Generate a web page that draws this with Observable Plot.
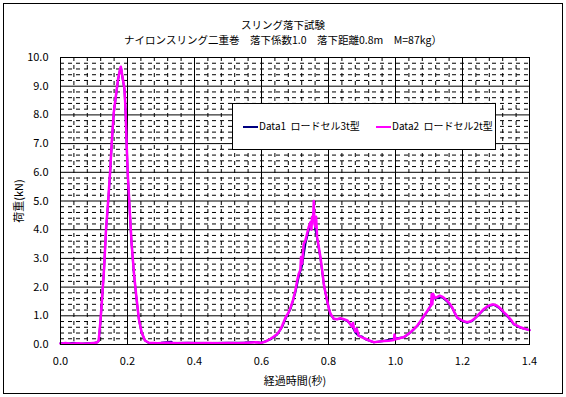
<!DOCTYPE html>
<html>
<head>
<meta charset="utf-8">
<script src="https://cdn.jsdelivr.net/npm/d3@7"></script>
<script src="https://cdn.jsdelivr.net/npm/@observablehq/plot@0.6"></script>
<style>
  body { margin: 0; background: white; }
  #wrap { position: relative; width: 566px; height: 397px; background: white; font-family: "Noto Sans CJK JP", sans-serif; color: black; }
  #wrap svg { position: absolute; left: 0; top: 0; }
  .ov { position: absolute; pointer-events: none; }
  .title { left: 0; width: 566px; text-align: center; font-size: 10.5px; line-height: 14px; white-space: nowrap; }
  #border { left: 3px; top: 3px; width: 560px; height: 391px; border: 1px solid black; box-sizing: border-box; }
  #legend { left: 232px; top: 103px; width: 264px; height: 47px; border: 1px solid black; box-sizing: border-box; background: white; font-size: 10px; }
  .sw { position: absolute; top: 22px; width: 15px; height: 0; border-top: 2px solid; }
  .lt { position: absolute; top: 15px; white-space: nowrap; line-height: 14px; }
</style>
</head>
<body>
<div id="wrap">
  <div class="ov" id="border"></div>
  <div class="ov title" id="t1" style="top:18px">スリング落下試験</div>
  <div class="ov title" id="t2" style="top:33px">ナイロンスリング二重巻　落下係数1.0　落下距離0.8m　M=87kg）</div>
  <div class="ov" id="legend">
    <div class="sw" style="left:10px;border-color:#000080"></div>
    <div class="lt" style="left:26px">Data1&nbsp;&nbsp;ロードセル3t型</div>
    <div class="sw" style="left:143px;border-color:#ff00ff"></div>
    <div class="lt" style="left:159px">Data2&nbsp;&nbsp;ロードセル2t型</div>
  </div>
</div>
<script>
// Data1 : load cell 3t (navy)
const time1 = [0,0.02,0.04,0.06,0.08,0.1,0.11,0.114,0.119,0.124,0.13,0.136,0.142,0.148,0.153,0.159,0.166,0.172,0.178,0.181,0.186,0.191,0.194,0.198,0.201,0.206,0.212,0.219,0.226,0.234,0.242,0.252,0.264,0.3,0.33,0.335,0.38,0.45,0.5,0.55,0.58,0.6,0.627,0.647,0.662,0.672,0.687,0.701,0.711,0.721,0.731,0.741,0.746,0.756,0.761,0.766,0.776,0.786,0.796,0.806,0.816,0.836,0.856,0.87,0.88,0.89,0.9,0.91,0.935,0.965,0.995,1.025,1.045,1.065,1.085,1.102,1.112,1.124,1.139,1.154,1.169,1.184,1.199,1.214,1.229,1.244,1.264,1.279,1.294,1.309,1.323,1.338,1.353,1.373,1.4];
const load1 = [0.05,0.03,0.06,0.03,0.04,0.05,0.08,0.12,0.75,1.55,2.6,4.0,4.92,5.95,7.0,8.05,8.7,9.22,9.58,9.62,9.22,8.88,8.18,6.8,5.86,4.8,3.52,2.5,1.68,0.87,0.42,0.14,0.05,0.06,0.1,0.05,0.06,0.05,0.06,0.07,0.09,0.06,0.18,0.35,0.62,0.9,1.25,1.8,2.35,2.75,3.5,4.0,4.1,4.6,4.0,3.7,3.0,2.1,1.5,1.05,0.88,0.9,0.82,0.65,0.42,0.3,0.28,0.18,0.08,0.12,0.2,0.25,0.42,0.64,0.98,1.28,1.6,1.62,1.65,1.5,1.28,0.93,0.82,0.76,0.82,0.98,1.22,1.34,1.38,1.28,1.1,0.93,0.7,0.58,0.5];

// Data2 : load cell 2t (magenta)
const time2 = [0,0.015,0.03,0.05,0.07,0.09,0.105,0.11,0.114,0.119,0.124,0.13,0.136,0.142,0.148,0.153,0.159,0.166,0.172,0.178,0.18,0.182,0.186,0.191,0.194,0.198,0.201,0.206,0.212,0.219,0.226,0.234,0.242,0.252,0.264,0.29,0.32,0.35,0.38,0.41,0.44,0.47,0.5,0.53,0.56,0.585,0.597,0.612,0.627,0.637,0.647,0.655,0.662,0.672,0.68,0.687,0.694,0.701,0.706,0.711,0.716,0.718,0.721,0.724,0.726,0.731,0.736,0.741,0.746,0.749,0.751,0.754,0.756,0.758,0.761,0.763,0.766,0.771,0.776,0.781,0.786,0.791,0.796,0.801,0.806,0.816,0.826,0.836,0.846,0.856,0.864,0.87,0.873,0.876,0.88,0.884,0.89,0.9,0.91,0.922,0.935,0.95,0.965,0.98,0.995,0.997,1.0,1.012,1.025,1.035,1.045,1.055,1.065,1.075,1.085,1.094,1.102,1.106,1.108,1.11,1.112,1.118,1.124,1.132,1.139,1.147,1.154,1.162,1.169,1.176,1.184,1.192,1.199,1.207,1.214,1.222,1.229,1.237,1.244,1.254,1.264,1.272,1.279,1.287,1.294,1.302,1.309,1.316,1.323,1.331,1.338,1.346,1.353,1.363,1.373,1.385,1.398,1.4];
const load2 = [0.03,0.05,0.03,0.04,0.03,0.04,0.06,0.08,0.14,0.78,1.59,2.64,4.03,4.96,6.0,7.05,8.09,8.73,9.26,9.61,9.68,9.55,9.26,8.91,8.21,6.82,5.89,4.84,3.56,2.52,1.71,0.89,0.43,0.14,0.06,0.04,0.06,0.04,0.05,0.04,0.05,0.04,0.05,0.04,0.06,0.08,0.05,0.1,0.2,0.28,0.37,0.5,0.66,0.95,1.1,1.3,1.55,1.88,2.2,2.46,2.6,3.05,2.81,3.2,3.5,3.62,3.86,4.1,4.26,4.0,4.45,4.3,5.0,4.2,4.1,4.45,3.74,3.4,3.04,2.6,2.11,1.8,1.53,1.25,1.07,0.9,0.88,0.92,0.88,0.84,0.72,0.62,0.75,0.6,0.45,0.55,0.31,0.25,0.2,0.14,0.08,0.1,0.12,0.13,0.16,0.35,0.18,0.22,0.26,0.34,0.43,0.54,0.66,0.82,1.0,1.15,1.3,1.35,1.75,1.4,1.77,1.62,1.65,1.7,1.67,1.6,1.53,1.42,1.3,1.12,0.95,0.88,0.84,0.8,0.78,0.8,0.84,0.92,1.0,1.12,1.24,1.31,1.36,1.39,1.39,1.36,1.3,1.22,1.13,1.04,0.95,0.84,0.72,0.66,0.6,0.55,0.51,0.5];

const xMajor = [0, 0.2, 0.4, 0.6, 0.8, 1.0, 1.2, 1.4];
const xMinor = [0.04,0.08,0.12,0.16,0.24,0.28,0.32,0.36,0.44,0.48,0.52,0.56,0.64,0.68,0.72,0.76,0.84,0.88,0.92,0.96,1.04,1.08,1.12,1.16,1.24,1.28,1.32,1.36];
const yMajor = [0,1,2,3,4,5,6,7,8,9,10];
const yMinor = [0.2,0.4,0.6,0.8,1.2,1.4,1.6,1.8,2.2,2.4,2.6,2.8,3.2,3.4,3.6,3.8,4.2,4.4,4.6,4.8,5.2,5.4,5.6,5.8,6.2,6.4,6.6,6.8,7.2,7.4,7.6,7.8,8.2,8.4,8.6,8.8,9.2,9.4,9.6,9.8];

const data1 = time1.map((t, i) => ({t, v: load1[i]}));
const data2 = time2.map((t, i) => ({t, v: load2[i]}));

const chart = Plot.plot({
  width: 566,
  height: 397,
  marginLeft: 60,
  marginRight: 37,
  marginTop: 57,
  marginBottom: 53,
  x: {domain: [0, 1.4]},
  y: {domain: [0, 10]},
  style: {fontFamily: "'Noto Sans CJK JP', sans-serif", fontSize: "11px", background: "transparent", color: "black"},
  marks: [
    Plot.ruleX(xMinor, {stroke: "black", strokeWidth: 1, strokeDasharray: "4,4"}),
    Plot.ruleY(yMinor, {stroke: "black", strokeWidth: 1, strokeDasharray: "4,4"}),
    Plot.ruleX(xMajor, {stroke: "black", strokeWidth: 1}),
    Plot.ruleY(yMajor, {stroke: "black", strokeWidth: 1}),
    Plot.line(data1, {x: "t", y: "v", stroke: "#000080", strokeWidth: 2}),
    Plot.line(data2, {x: "t", y: "v", stroke: "#ff00ff", strokeWidth: 2.5}),
    Plot.frame({stroke: "black"}),
    Plot.axisX({ticks: xMajor, tickSize: 0, tickPadding: 13, tickFormat: d => d.toFixed(1),
      label: "経過時間(秒)", labelAnchor: "center", labelOffset: 40, labelArrow: "none"}),
    Plot.axisY({ticks: yMajor, tickSize: 0, tickPadding: 12, tickFormat: d => d.toFixed(1),
      label: "荷重(kN)", labelAnchor: "center", labelOffset: 45, labelArrow: "none"})
  ]
});
document.getElementById("wrap").insertBefore(chart, document.getElementById("wrap").firstChild);
</script>
</body>
</html>
